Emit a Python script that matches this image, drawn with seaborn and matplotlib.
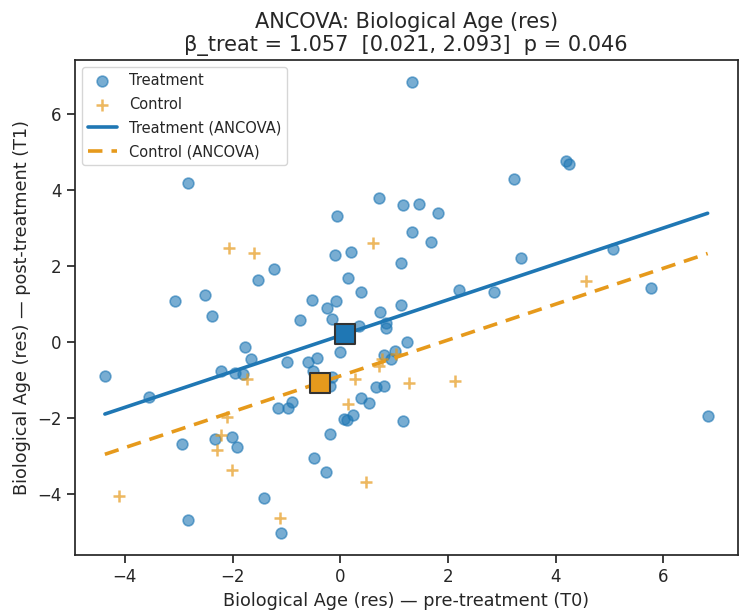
import numpy as np
import pandas as pd
import matplotlib
matplotlib.use("Agg")
import matplotlib.pyplot as plt
import seaborn as sns

# --- data (residualised biological age) ---
treat_t0 = [-4.37, -3.56, -2.82, -3.07, -2.51, -2.38, -2.21, -2.94, -2.32, -2.01,
            -1.92, -1.96, -1.76, -1.81, -1.65, -1.52, -1.23, -1.41, -2.82, -1.10,
            -1.16, -0.97, -0.90, -0.99, -0.75, -0.53, -0.59, -0.44, -0.50, -0.48,
            -0.26, -0.19, -0.24, -0.15, -0.06, -0.08, -0.10, -0.01, 0.14, 0.20,
            0.38, 0.34, 0.07, 0.12, 0.23, 0.38, 0.54, 0.67, 0.82, -0.15,
            -0.19, 0.74, 0.72, 0.85, 0.85, 0.82, 1.02, 0.94, 1.13, 1.13,
            1.16, 1.16, 1.24, 1.34, 1.33, 1.47, 1.69, 1.82, 2.20, 2.86,
            3.22, 3.35, 4.19, 4.24, 5.07, 5.76, 6.82]
treat_t1 = [-0.89, -1.45, 4.18, 1.08, 1.24, 0.68, -0.76, -2.68, -2.55, -2.50,
            -2.76, -0.82, -0.13, -0.84, -0.45, 1.63, 1.92, -4.08, -4.68, -5.00,
            -1.74, -1.74, -1.58, -0.53, 0.58, 1.11, -0.53, -0.42, -0.76, -3.05,
            -3.42, -2.42, 0.89, 0.61, 3.32, 1.08, 2.29, -0.26, 1.68, 2.37,
            1.32, 0.42, -2.03, -2.05, -1.92, -1.47, -1.61, -1.18, -1.16, -0.92,
            -1.16, 0.79, 3.79, 0.50, 0.37, -0.34, -0.24, -0.45, 0.97, 2.08,
            -2.08, 3.61, 0.00, 2.89, 6.82, 3.63, 2.63, 3.39, 1.37, 1.32,
            4.29, 2.21, 4.76, 4.68, 2.45, 1.42, -1.95]

ctrl_t0 = [-4.11, -2.07, -1.61, -1.74, -2.10, -2.21, -2.29, -2.01, -1.12, 0.61,
           0.27, 0.72, 0.78, 1.03, 1.27, 2.13, 0.14, 0.47, 4.56]
ctrl_t1 = [-4.05, 2.47, 2.34, -0.97, -1.97, -2.45, -2.84, -3.37, -4.63, 2.61,
           -0.97, -0.63, -0.45, -0.32, -1.08, -1.03, -1.63, -3.68, 1.61]

# ANCOVA fit (common slope, group intercepts)
slope = 0.471
icpt_treat = 0.17
beta_treat = 1.057
ci_low, ci_high = 0.021, 2.093
p_value = 0.046
icpt_ctrl = icpt_treat - beta_treat

BLUE = "#1f77b4"
ORANGE = "#e69a1c"

sns.set_theme(style="ticks")
plt.rcParams['font.family'] = ['DejaVu Sans']

df_t = pd.DataFrame({"t0": treat_t0, "t1": treat_t1})
df_c = pd.DataFrame({"t0": ctrl_t0, "t1": ctrl_t1})

fig, ax = plt.subplots(figsize=(7.4, 6.1), dpi=100)
fig.subplots_adjust(left=0.101, right=0.997, top=0.902, bottom=0.090)

sns.scatterplot(data=df_t, x="t0", y="t1", ax=ax, color=BLUE, alpha=0.6,
                s=60, edgecolor=BLUE, linewidth=1.2, label="Treatment", zorder=2)
sns.scatterplot(data=df_c, x="t0", y="t1", ax=ax, color=ORANGE, alpha=0.7,
                marker="+", s=70, linewidth=1.8, label="Control", zorder=2)

# fitted lines across full T0 range
x_all = np.array(treat_t0 + ctrl_t0)
xs = np.linspace(x_all.min(), x_all.max(), 50)
ax.plot(xs, icpt_treat + slope * xs, color=BLUE, lw=2.6, label="Treatment (ANCOVA)", zorder=3)
ax.plot(xs, icpt_ctrl + slope * xs, color=ORANGE, lw=2.6, ls=(0, (4, 2.5)),
        label="Control (ANCOVA)", zorder=3)

# group means on their fitted lines
mt = np.mean(treat_t0)
mc = np.mean(ctrl_t0)
ax.scatter([mt], [icpt_treat + slope * mt], marker="s", s=190, color=BLUE,
           edgecolor="#333333", linewidth=1.5, zorder=5)
ax.scatter([mc], [icpt_ctrl + slope * mc], marker="s", s=190, color=ORANGE,
           edgecolor="#333333", linewidth=1.5, zorder=5)

ax.set_xticks([-4, -2, 0, 2, 4, 6])
ax.set_yticks([-4, -2, 0, 2, 4, 6])
ax.tick_params(labelsize=12)
ax.set_xlabel("Biological Age (res) — pre-treatment (T0)", fontsize=12.7)
ax.set_ylabel("Biological Age (res) — post-treatment (T1)", fontsize=12.7)
ax.set_title("ANCOVA: Biological Age (res)\n"
             f"β_treat = {beta_treat:.3f}  [{ci_low:.3f}, {ci_high:.3f}]  p = {p_value:.3f}",
             fontsize=15)
ax.legend(loc="upper left", fontsize=10.5, frameon=True, labelspacing=0.6)

fig.savefig("out.png", dpi=100)
